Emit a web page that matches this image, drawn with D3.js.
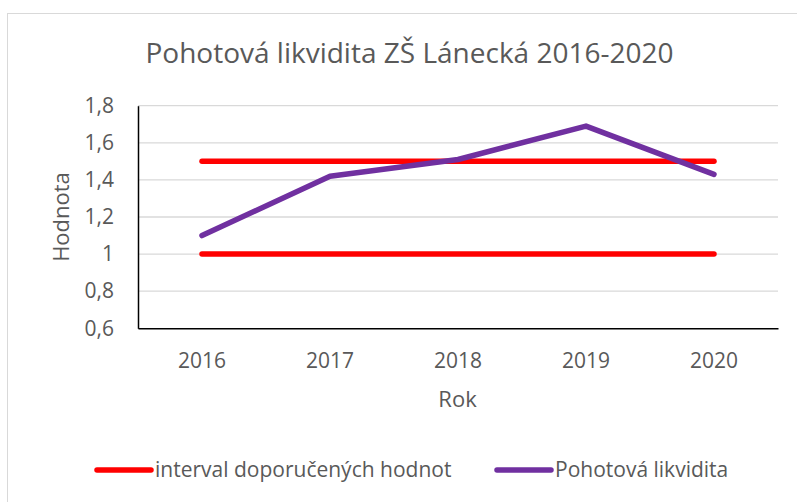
<!DOCTYPE html>
<html><head><meta charset="utf-8">
<script src="https://cdn.jsdelivr.net/npm/d3@7"></script>
<style>body{margin:0;background:#fff}text{font-family:"Open Sans",sans-serif;fill:#595959}</style>
</head><body>
<svg id="c" width="797" height="502"></svg>
<script>
const years = ["2016","2017","2018","2019","2020"];
const liquidity = [1.10, 1.42, 1.51, 1.69, 1.43];
const upperBound = [1.5, 1.5, 1.5, 1.5, 1.5];
const lowerBound = [1.0, 1.0, 1.0, 1.0, 1.0];
const yTicks = [0.6, 0.8, 1.0, 1.2, 1.4, 1.6, 1.8];
const title = "Pohotová likvidita ZŠ Lánecká 2016-2020";
const seriesNames = ["interval doporučených hodnot", "Pohotová likvidita"];

const svg = d3.select("#c");
svg.append("rect").attr("x",7.5).attr("y",13.5).attr("width",800).attr("height",500)
  .attr("fill","#fff").attr("stroke","#D9D9D9");

const L=138, R=778, T=105.7, B=328.3;
const x = d3.scaleBand().domain(years).range([L,R]);
const y = d3.scaleLinear().domain([0.6,1.8]).range([B,T]);

svg.append("g").selectAll("line").data(yTicks.slice(1)).join("line")
  .attr("x1",L).attr("x2",R).attr("y1",d=>y(d)).attr("y2",d=>y(d))
  .attr("stroke","#D9D9D9").attr("stroke-width",1.3);

const yAxis = svg.append("g").attr("transform",`translate(${L},0)`)
  .call(d3.axisLeft(y).tickValues(yTicks).tickSize(0).tickPadding(24)
    .tickFormat(d=>d3.format(".1f")(d).replace(".",",").replace(/,0$/,"")));
yAxis.select(".domain").attr("stroke","#000").attr("stroke-width",1.5);
yAxis.selectAll("text").style("font-size","21px").attr("fill","#595959");

const xAxis = svg.append("g").attr("transform",`translate(0,${B})`)
  .call(d3.axisBottom(x).tickSize(0).tickPadding(25));
xAxis.select(".domain").attr("stroke","#000").attr("stroke-width",1.5);
xAxis.selectAll("text").style("font-size","21px").attr("fill","#595959");

const line = d3.line().x((d,i)=>x(years[i])+x.bandwidth()/2).y(d=>y(d));
[upperBound, lowerBound].forEach(s=>{
  svg.append("path").attr("d",line(s)).attr("fill","none").attr("stroke","#FF0000")
    .attr("stroke-width",5.5).attr("stroke-linecap","round");
});
svg.append("path").attr("d",line(liquidity)).attr("fill","none").attr("stroke","#7030A0")
  .attr("stroke-width",5.5).attr("stroke-linecap","round").attr("stroke-linejoin","round");

svg.append("text").attr("x",409.5).attr("y",63).attr("text-anchor","middle")
  .style("font-size","28px").text(title);
svg.append("text").attr("x",457.5).attr("y",407).attr("text-anchor","middle")
  .style("font-size","22px").text("Rok");
svg.append("text").attr("transform","translate(69,217) rotate(-90)").attr("text-anchor","middle")
  .style("font-size","22px").text("Hodnota");

const legend = [{name:seriesNames[0],color:"#FF0000",x1:97,x2:151},{name:seriesNames[1],color:"#7030A0",x1:497,x2:551}];
legend.forEach(l=>{
  svg.append("line").attr("x1",l.x1).attr("x2",l.x2).attr("y1",470).attr("y2",470)
    .attr("stroke",l.color).attr("stroke-width",5.5).attr("stroke-linecap","round");
  svg.append("text").attr("x",l.x2+4).attr("y",476.5).style("font-size","21px").text(l.name);
});
</script>
</body></html>
